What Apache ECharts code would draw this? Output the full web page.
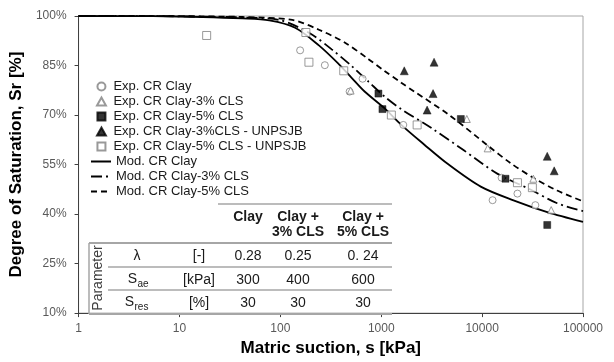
<!DOCTYPE html>
<html><head><meta charset="utf-8">
<script src="https://cdn.jsdelivr.net/npm/echarts@6/dist/echarts.min.js"></script>
<style>html,body{margin:0;padding:0;background:#fff}#c{width:614px;height:362px}</style>
</head><body><div id="c"></div>
<script>
// ---- data ----
const xTickLabels = ['1','10','100','1000','10000','100000'];
const yTickLabels = ['10%','25%','40%','55%','70%','85%','100%'];

const seriesNames = [
  'Exp. CR Clay',
  'Exp. CR Clay-3% CLS',
  'Exp. CR Clay-5% CLS',
  'Exp. CR Clay-3%CLS - UNPSJB',
  'Exp. CR Clay-5% CLS - UNPSJB',
  'Mod. CR Clay',
  'Mod. CR Clay-3% CLS',
  'Mod. CR Clay-5% CLS'
];

const expClayS   = [157, 276, 653, 486, 1655, 12700, 15600, 22400, 33700];
const expClaySr  = [89.6, 85.1, 81.0, 77.1, 67.0, 44.2, 51.0, 46.2, 42.7];

const exp3S      = [497, 7050, 11350, 32200, 48400];
const exp3Sr     = [77.4, 68.8, 59.9, 50.7, 41.2];

const exp5S      = [938, 1028, 6150, 17060, 44200];
const exp5Sr     = [76.5, 71.8, 68.8, 50.7, 36.7];

const expU3S     = [1692, 3340, 3265, 2850, 44200, 51800];
const expU3Sr    = [83.4, 86.0, 76.5, 71.5, 57.5, 53.1];

const expU5S     = [18.6, 179, 192, 425, 1260, 2270, 22400, 31500];
const expU5Sr    = [94.1, 95.0, 86.0, 83.4, 70.0, 67.0, 49.5, 48.0];

const modClayS   = [1, 5.47, 17.0, 42.0, 77.6, 140, 241, 379, 509, 684, 1075, 1580, 2660, 4585, 9690, 20470, 44240, 100000];
const modClaySr  = [100, 99.94, 99.7, 99.26, 98.66, 96.44, 91.09, 85.45, 81.29, 77.13, 72.08, 67.03, 61.09, 55.15, 48.32, 44.16, 40.59, 37.62];

const mod3S      = [1, 5.47, 17.0, 42.0, 97.3, 192, 323, 509, 748, 1075, 1580, 3120, 6590, 14250, 30090, 55480, 100000];
const mod3Sr     = [100, 99.97, 99.82, 99.55, 98.81, 94.95, 89.90, 84.85, 80.10, 75.64, 71.78, 66.14, 59.31, 52.18, 47.43, 43.27, 40.89];

const mod5S      = [1, 5.47, 17.0, 42.0, 131, 241, 434, 748, 1075, 1580, 2120, 4585, 11350, 19110, 32200, 55480, 100000];
const mod5Sr     = [100, 99.99, 99.88, 99.70, 98.81, 95.84, 91.98, 86.93, 83.37, 79.80, 77.13, 70.30, 60.79, 55.45, 50.99, 47.13, 43.86];

// table
const tableCols   = ['Clay', 'Clay +', 'Clay +'];
const tableCols2  = ['', '3% CLS', '5% CLS'];
const tableLambda = ['0.28', '0.25', '0. 24'];
const tableSae    = ['300', '400', '600'];
const tableSres   = ['30', '30', '30'];
const tableUnits  = ['[-]', '[kPa]', '[%]'];

// ---- build ----
const FONT = "'Liberation Sans', Arial, sans-serif";
const zip = (a, b) => a.map((v, i) => [v, b[i]]);
const TRI = 'path://M5,0L10,9L0,9Z';
const SQR = 'path://M0,0L10,0L10,10L0,10Z';

const chart = echarts.init(document.getElementById('c'), null, {renderer: 'canvas'});

const openStyle = {color: '#ffffff', borderColor: '#7f7f7f', borderWidth: 1};
const fillStyle = {color: '#000000', borderColor: '#000000', borderWidth: 0.5};

function txt(text, x, y, opt) {
  opt = opt || {};
  return {
    type: 'text', x: x, y: y, z: 100, rotation: opt.rotation || 0,
    style: {
      text: text, fill: opt.fill || '#1a1a1a',
      font: (opt.bold ? 'bold ' : '') + (opt.size || 14) + 'px ' + FONT,
      align: opt.align || 'center', verticalAlign: 'middle',
      textAlign: opt.align || 'center', textVerticalAlign: 'middle'
    }
  };
}
function hline(x1, x2, y, w) {
  return {type: 'line', z: 100, shape: {x1: x1, y1: y, x2: x2, y2: y},
          style: {stroke: '#a6a6a6', lineWidth: w || 1.5}};
}

const colX = [248, 298, 363];
const graphics = [];
graphics.push(hline(218, 392, 204, 1.5));
graphics.push(hline(89, 392, 243, 2));
graphics.push(hline(108, 392, 267, 1.5));
graphics.push(hline(108, 392, 290, 1.5));
graphics.push(hline(89, 392, 314, 2));
graphics.push({type: 'line', z: 100, shape: {x1: 89, y1: 243, x2: 89, y2: 314},
               style: {stroke: '#a6a6a6', lineWidth: 1.5}});
tableCols.forEach((t, i) => graphics.push(txt(t, colX[i], 217, {bold: true})));
tableCols2.forEach((t, i) => { if (t) graphics.push(txt(t, colX[i], 232, {bold: true})); });
tableLambda.forEach((t, i) => graphics.push(txt(t, colX[i], 256)));
tableSae.forEach((t, i) => graphics.push(txt(t, colX[i], 280)));
tableSres.forEach((t, i) => graphics.push(txt(t, colX[i], 303)));
graphics.push(txt('λ', 137, 256));
graphics.push(txt('S', 137, 279, {align: 'right'}));
graphics.push(txt('ae', 137.5, 284, {align: 'left', size: 10}));
graphics.push(txt('S', 134, 302, {align: 'right'}));
graphics.push(txt('res', 134.5, 307, {align: 'left', size: 10}));
tableUnits.forEach((t, i) => graphics.push(txt(t, 199, [256, 280, 303][i])));
graphics.push(txt('Parameter', 98, 278, {rotation: Math.PI / 2, fill: '#404040'}));

const legendText = {fontSize: 13, lineHeight: 15, color: '#1a1a1a', fontFamily: FONT};
const noDot = {color: 'rgba(0,0,0,0)', borderColor: 'rgba(0,0,0,0)', borderWidth: 0, opacity: 0};

const option = {
  animation: false,
  backgroundColor: '#ffffff',
  textStyle: {fontFamily: FONT},
  grid: {left: 75, right: 31, top: 16, bottom: 43, show: true,
         borderColor: '#a6a6a6', borderWidth: 1, backgroundColor: 'transparent'},
  legend: [
    {
      orient: 'vertical', left: 96, top: 79, padding: 0,
      itemWidth: 14, itemHeight: 8, itemGap: 0, textStyle: legendText,
      data: [
        {name: seriesNames[0], icon: 'circle'},
        {name: seriesNames[1], icon: TRI},
        {name: seriesNames[2], icon: SQR},
        {name: seriesNames[3], icon: TRI},
        {name: seriesNames[4], icon: SQR}
      ]
    },
    {
      orient: 'vertical', left: 90, top: 154, padding: 0,
      itemWidth: 20, itemHeight: 8, itemGap: 0, textStyle: legendText,
      data: [
        {name: seriesNames[5], itemStyle: noDot},
        {name: seriesNames[6], itemStyle: noDot},
        {name: seriesNames[7], itemStyle: noDot}
      ]
    }
  ],
  xAxis: {
    type: 'log', logBase: 10, min: 1, max: 100000,
    splitLine: {show: false}, minorTick: {show: false},
    axisLine: {lineStyle: {color: '#404040', width: 1}},
    axisTick: {length: 4, lineStyle: {color: '#404040'}},
    axisLabel: {margin: 10, color: '#595959', fontSize: 12, fontFamily: FONT,
                formatter: v => xTickLabels[Math.round(Math.log10(v))]},
    name: 'Matric suction, s [kPa]', nameLocation: 'middle', nameGap: 24,
    nameTextStyle: {fontSize: 17, fontWeight: 'bold', color: '#000', fontFamily: FONT}
  },
  yAxis: {
    type: 'value', min: 10, max: 100, interval: 15,
    splitLine: {show: false},
    axisLine: {show: true, lineStyle: {color: '#404040', width: 1}},
    axisTick: {show: true, length: 4, lineStyle: {color: '#404040'}},
    axisLabel: {margin: 12, color: '#595959', fontSize: 12, fontFamily: FONT,
                formatter: v => yTickLabels[Math.round((v - 10) / 15)]},
    name: 'Degree of Saturation, Sr [%]', nameLocation: 'middle', nameGap: 41,
    nameTextStyle: {fontSize: 17, fontWeight: 'bold', color: '#000', fontFamily: FONT}
  },
  series: [
    {name: seriesNames[0], type: 'scatter', z: 5, symbol: 'circle', symbolSize: 7,
     itemStyle: openStyle, data: zip(expClayS, expClaySr)},
    {name: seriesNames[1], type: 'scatter', z: 5, symbol: 'triangle', symbolSize: 7,
     itemStyle: openStyle, data: zip(exp3S, exp3Sr)},
    {name: seriesNames[2], type: 'scatter', z: 5, symbol: 'rect', symbolSize: 7,
     itemStyle: fillStyle, data: zip(exp5S, exp5Sr)},
    {name: seriesNames[3], type: 'scatter', z: 5, symbol: 'triangle', symbolSize: 8,
     itemStyle: fillStyle, data: zip(expU3S, expU3Sr)},
    {name: seriesNames[4], type: 'scatter', z: 5, symbol: 'rect', symbolSize: 8,
     itemStyle: openStyle, data: zip(expU5S, expU5Sr)},
    {name: seriesNames[5], type: 'line', z: 3, symbol: 'none', smooth: 0.3,
     lineStyle: {color: '#000', width: 1.8, type: 'solid'}, itemStyle: {color: '#000'},
     data: zip(modClayS, modClaySr)},
    {name: seriesNames[6], type: 'line', z: 3, symbol: 'none', smooth: 0.3,
     lineStyle: {color: '#000', width: 1.8, type: [11, 4, 2, 4]}, itemStyle: {color: '#000'},
     data: zip(mod3S, mod3Sr)},
    {name: seriesNames[7], type: 'line', z: 3, symbol: 'none', smooth: 0.3,
     lineStyle: {color: '#000', width: 1.8, type: [6, 4]}, itemStyle: {color: '#000'},
     data: zip(mod5S, mod5Sr)}
  ],
  graphic: graphics
};
chart.setOption(option);
</script>
</body></html>
